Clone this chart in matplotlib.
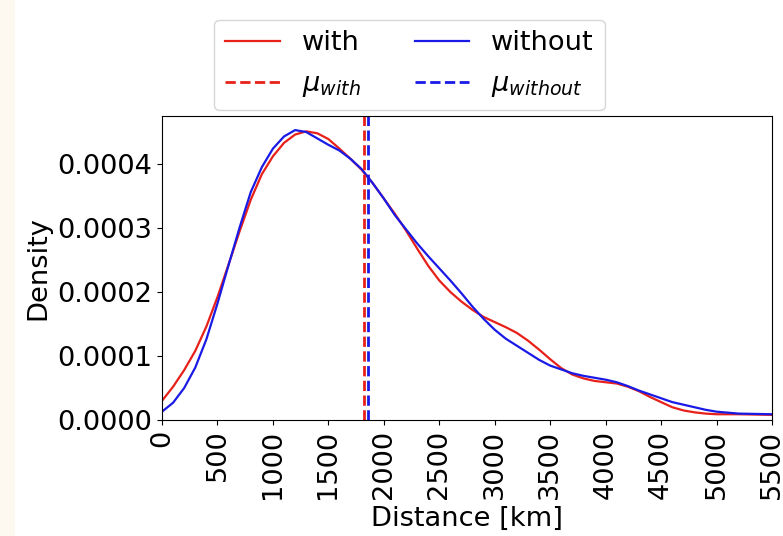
import matplotlib
matplotlib.use("Agg")
import matplotlib.pyplot as plt
from matplotlib.patches import Rectangle

# Data (density values in units of 1e-4)
distance_km = [0, 100, 200, 300, 400, 500, 600, 700, 800, 900, 1000, 1100, 1200,
               1300, 1400, 1500, 1600, 1700, 1800, 1900, 2000, 2100, 2200, 2300,
               2400, 2500, 2600, 2700, 2800, 2900, 3000, 3100, 3200, 3300, 3400,
               3500, 3600, 3700, 3800, 3900, 4000, 4100, 4200, 4300, 4400, 4500,
               4600, 4700, 4800, 4900, 5000, 5200, 5500]
density_with = [0.30, 0.52, 0.78, 1.08, 1.46, 1.92, 2.43, 2.95, 3.44, 3.84, 4.12,
                4.33, 4.46, 4.51, 4.48, 4.39, 4.24, 4.08, 3.91, 3.70, 3.46, 3.22,
                2.96, 2.68, 2.41, 2.18, 2.00, 1.85, 1.72, 1.61, 1.53, 1.45, 1.36,
                1.24, 1.10, 0.95, 0.81, 0.71, 0.65, 0.61, 0.59, 0.57, 0.52, 0.45,
                0.36, 0.28, 0.20, 0.15, 0.12, 0.10, 0.09, 0.09, 0.08]
density_without = [0.13, 0.27, 0.50, 0.82, 1.26, 1.82, 2.42, 3.01, 3.56, 3.95, 4.24,
                   4.43, 4.53, 4.50, 4.40, 4.30, 4.21, 4.08, 3.92, 3.70, 3.46, 3.20,
                   2.98, 2.76, 2.56, 2.37, 2.18, 1.98, 1.77, 1.58, 1.41, 1.27, 1.16,
                   1.05, 0.94, 0.85, 0.79, 0.73, 0.69, 0.66, 0.63, 0.59, 0.53, 0.46,
                   0.40, 0.34, 0.28, 0.24, 0.20, 0.16, 0.13, 0.10, 0.09]
mean_with = 1821
mean_without = 1857
xticks = [0, 500, 1000, 1500, 2000, 2500, 3000, 3500, 4000, 4500, 5000, 5500]
yticks = [0.0, 0.0001, 0.0002, 0.0003, 0.0004]

FS = 19.6
W, H = 783, 536
fig = plt.figure(figsize=(W / 100, H / 100), dpi=100)
fig.patch.set_facecolor("white")
fig.add_artist(Rectangle((0, 0), 15 / W, 1, transform=fig.transFigure,
                         facecolor="#fef9f0", edgecolor="none", zorder=0))

ax = fig.add_axes([162 / W, 1 - 420 / H, (772 - 162) / W, (420 - 116) / H])
yw = [v * 1e-4 for v in density_with]
ywo = [v * 1e-4 for v in density_without]
ax.plot(distance_km, yw, color="#e8201a", lw=1.6, label="with")
ax.plot(distance_km, ywo, color="#1a1ae6", lw=1.6, label="without")
ax.axvline(mean_with, color="#e8201a", ls="--", lw=2, label=r"$\mu_{with}$")
ax.axvline(mean_without, color="#1a1ae6", ls="--", lw=2, label=r"$\mu_{without}$")

ax.set_xlim(0, 5500)
ax.set_ylim(0, 0.000475)
ax.set_xticks(xticks)
ax.set_xticklabels([str(t) for t in xticks], rotation=90, fontsize=FS)
ax.set_yticks(yticks)
ax.set_yticklabels([f"{t:.4f}" for t in yticks], fontsize=FS)
ax.set_xlabel("Distance [km]", fontsize=FS, labelpad=5)
ax.set_ylabel("Density", fontsize=FS, labelpad=4)

handles, labels = ax.get_legend_handles_labels()
order = [0, 2, 1, 3]
fig.legend([handles[i] for i in order], [labels[i] for i in order],
           loc="upper center", bbox_to_anchor=(409.5 / W, 1 - 6 / H),
           ncol=2, fontsize=FS, frameon=True, labelspacing=0.55)

fig.savefig("out.png", dpi=100)
